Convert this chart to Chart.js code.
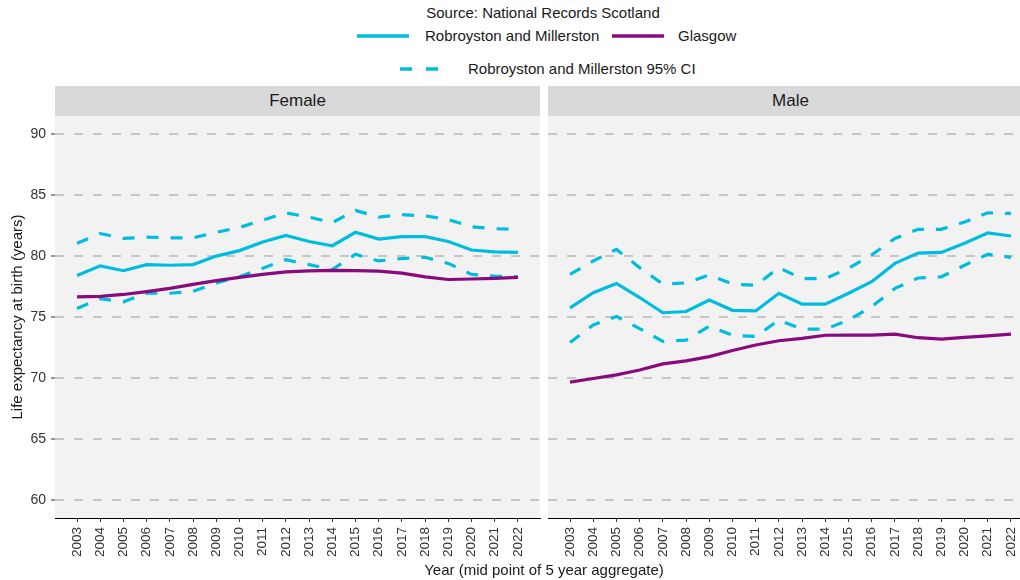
<!DOCTYPE html>
<html>
<head>
<meta charset="utf-8">
<script src="https://cdn.jsdelivr.net/npm/chart.js@4"></script>
<style>
  html, body { margin: 0; padding: 0; width: 1020px; height: 580px; overflow: hidden; background: #fff; }
  body { position: relative; font-family: "Liberation Sans", Arial, sans-serif; color: #1a1a1a; }
  .abs { position: absolute; white-space: nowrap; }
  .strip { position: absolute; top: 86px; height: 30px; width: 485px; background: #D9D9D9;
           font-size: 17px; line-height: 30px; text-align: center; color: #1a1a1a; }
  .leg { font-size: 15px; line-height: 18px; }
  canvas { position: absolute; }
</style>
</head>
<body>

<div class="abs leg" style="left:343px; width:400px; text-align:center; top:4px;">Source: National Records Scotland</div>

<svg class="abs" style="left:357px; top:30px;" width="52" height="12"><line x1="0" y1="6" x2="52" y2="6" stroke="#00BDE0" stroke-width="3.6"/></svg>
<div class="abs leg" style="left:425px; top:27px;">Robroyston and Millerston</div>
<svg class="abs" style="left:612px; top:30px;" width="52" height="12"><line x1="0" y1="6" x2="52" y2="6" stroke="#880A7E" stroke-width="3.6"/></svg>
<div class="abs leg" style="left:678px; top:27px;">Glasgow</div>

<svg class="abs" style="left:400px; top:63px;" width="52" height="12"><line x1="0" y1="6" x2="52" y2="6" stroke="#00BDE0" stroke-width="3.6" stroke-dasharray="12,14"/></svg>
<div class="abs leg" style="left:468px; top:60px;">Robroyston and Millerston 95% CI</div>

<div class="strip" style="left:55px;">Female</div>
<div class="strip" style="left:548px;">Male</div>

<canvas id="female" style="left:0px; top:96px;" width="560" height="484"></canvas>
<canvas id="male" style="left:528px; top:96px;" width="525" height="484"></canvas>

<div class="abs leg" style="left:344px; width:400px; text-align:center; top:561px;">Year (mid point of 5 year aggregate)</div>

<script>
// Data
const years = [2003, 2004, 2005, 2006, 2007, 2008, 2009, 2010, 2011, 2012,
               2013, 2014, 2015, 2016, 2017, 2018, 2019, 2020, 2021, 2022];
const yTicks = [60, 65, 70, 75, 80, 85, 90];

const femaleArea = [78.4, 79.2, 78.8, 79.3, 79.25, 79.3, 80.0, 80.45, 81.15, 81.7,
                    81.2, 80.85, 81.95, 81.4, 81.6, 81.6, 81.2, 80.5, 80.35, 80.3];
const femaleUpper = [81.05, 81.85, 81.45, 81.55, 81.5, 81.5, 81.95, 82.35, 82.95, 83.55,
                     83.2, 82.75, 83.75, 83.2, 83.4, 83.3, 83.0, 82.4, 82.25, 82.2];
const femaleLower = [75.7, 76.5, 76.25, 76.95, 76.95, 77.1, 77.8, 78.3, 79.0, 79.7,
                     79.3, 78.9, 80.15, 79.6, 79.8, 79.9, 79.4, 78.5, 78.35, 78.3];
const femaleGlasgow = [76.65, 76.7, 76.85, 77.08, 77.35, 77.68, 77.98, 78.25, 78.5, 78.7,
                       78.78, 78.82, 78.8, 78.77, 78.6, 78.3, 78.08, 78.12, 78.17, 78.25];

const maleArea = [75.75, 77.0, 77.75, 76.6, 75.35, 75.45, 76.4, 75.55, 75.5, 76.95,
                  76.05, 76.05, 76.95, 77.9, 79.4, 80.25, 80.3, 81.05, 81.9, 81.65];
const maleUpper = [78.5, 79.6, 80.55, 79.05, 77.7, 77.8, 78.45, 77.7, 77.6, 79.05,
                   78.15, 78.15, 79.0, 80.1, 81.45, 82.2, 82.2, 82.8, 83.55, 83.5];
const maleLower = [72.9, 74.35, 75.05, 74.05, 73.0, 73.1, 74.25, 73.5, 73.4, 74.75,
                   74.0, 74.0, 74.75, 75.85, 77.35, 78.2, 78.3, 79.25, 80.15, 79.9];
const maleGlasgow = [69.65, 69.95, 70.25, 70.65, 71.15, 71.4, 71.75, 72.25, 72.7, 73.05,
                     73.25, 73.5, 73.52, 73.52, 73.6, 73.3, 73.18, 73.32, 73.45, 73.6];

const CYAN = '#00BDE0';
const PURPLE = '#880A7E';

Chart.defaults.font.family = '"Liberation Sans", Arial, sans-serif';

// grey panel behind the plotting area
const panelBg = {
    id: 'panelBg',
    beforeDraw(chart) {
        const { ctx, chartArea: a } = chart;
        ctx.save();
        ctx.fillStyle = '#F2F2F2';
        ctx.fillRect(a.left, a.top, a.width, a.height);
        ctx.restore();
    }
};

function toPoints(values) {
    return years.map((yr, i) => ({ x: yr, y: values[i] }));
}

function lineSet(label, values, color, dashed, order) {
    return {
        label: label,
        data: toPoints(values),
        borderColor: color,
        backgroundColor: color,
        borderWidth: 3.2,
        borderDash: dashed ? [12, 12] : [],
        borderCapStyle: 'butt',
        pointRadius: 0,
        tension: 0,
        order: order
    };
}

function makePanel(id, area, upper, lower, glasgow, showY) {
    const ctx = document.getElementById(id).getContext('2d');
    new Chart(ctx, {
        type: 'line',
        data: {
            datasets: [
                lineSet('Glasgow', glasgow, PURPLE, false, 1),
                lineSet('Robroyston and Millerston', area, CYAN, false, 2),
                lineSet('Robroyston and Millerston 95% CI', upper, CYAN, true, 3),
                lineSet('Robroyston and Millerston 95% CI', lower, CYAN, true, 3)
            ]
        },
        options: {
            responsive: false,
            animation: false,
            layout: { padding: { top: 20, right: 20, bottom: 0, left: showY ? 0 : 20 } },
            plugins: {
                legend: { display: false },
                tooltip: { enabled: false }
            },
            scales: {
                x: {
                    type: 'linear',
                    min: 2002.05,
                    max: 2022.95,
                    afterBuildTicks: scale => { scale.ticks = years.map(v => ({ value: v })); },
                    afterFit: scale => { scale.height = 62; },
                    grid: {
                        drawOnChartArea: false,
                        drawTicks: true,
                        tickLength: 4,
                        tickColor: '#333',
                        tickWidth: 1
                    },
                    border: { display: true, color: '#000', width: 1 },
                    ticks: {
                        autoSkip: false,
                        maxRotation: 90,
                        minRotation: 90,
                        padding: 5,
                        color: '#333',
                        font: { size: 13.5 },
                        callback: v => String(v)
                    }
                },
                y: {
                    min: 58.5,
                    max: 91.5,
                    afterBuildTicks: scale => { scale.ticks = yTicks.map(v => ({ value: v })); },
                    afterFit: scale => { scale.width = showY ? 55 : 0; },
                    grid: {
                        color: '#C6C6C6',
                        lineWidth: 2,
                        drawTicks: showY,
                        tickLength: 4,
                        tickColor: '#333',
                        tickWidth: 1
                    },
                    border: { display: false, dash: [9, 10] },
                    ticks: {
                        display: showY,
                        padding: 5,
                        color: '#333',
                        font: { size: 14 }
                    },
                    title: {
                        display: showY,
                        text: 'Life expectancy at birth (years)',
                        color: '#1a1a1a',
                        font: { size: 15 },
                        padding: { top: 9, bottom: 0 }
                    }
                }
            }
        },
        plugins: [panelBg]
    });
}

makePanel('female', femaleArea, femaleUpper, femaleLower, femaleGlasgow, true);
makePanel('male', maleArea, maleUpper, maleLower, maleGlasgow, false);
</script>
</body>
</html>
